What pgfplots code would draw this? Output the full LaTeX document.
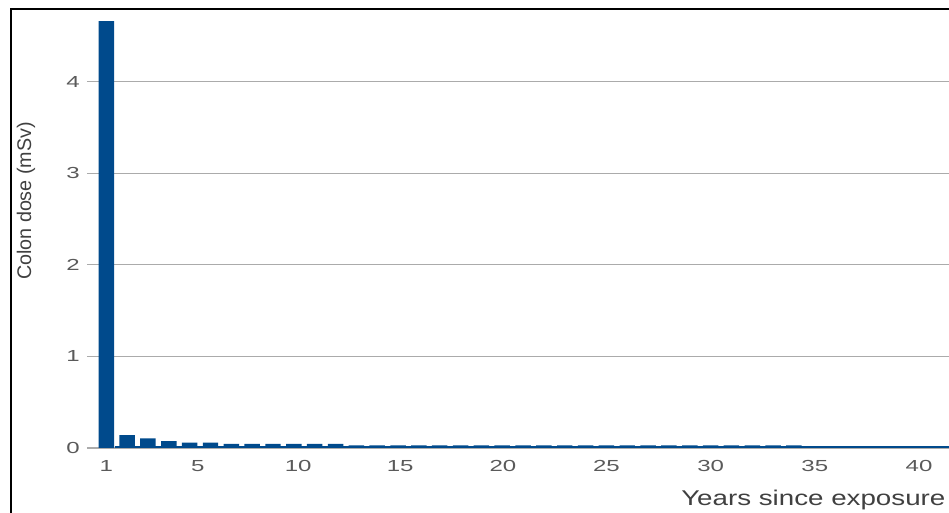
\documentclass[border=0pt]{standalone}
\usepackage{fontspec}
\setmainfont{Liberation Sans}
\newfontfamily\tickfont[FakeStretch=1.5]{Liberation Sans}
\newfontfamily\xlabfont[FakeStretch=1.3]{Liberation Sans}
\usepackage{pgfplots}
\pgfplotsset{compat=1.18}
\definecolor{barblue}{HTML}{004A8C}
\definecolor{gridgray}{HTML}{ABABAB}
\definecolor{ticktext}{HTML}{5A5A5A}
\definecolor{labtext}{HTML}{404040}
\begin{document}
\begin{tikzpicture}
\path[use as bounding box] (-65.25pt,-48.75pt) rectangle (646.5pt,336pt);
\begin{axis}[
  scale only axis,
  width=646.5pt, height=329.25pt,
  xmin=0.074, xmax=41.44,
  ymin=0, ymax=4.793,
  axis line style={draw=none},
  major tick length=0pt,
  ytick={0,1,2,3,4},
  yticklabels={0,1,2,3,4},
  xtick={1,5.39,10.21,15.1,20.03,25,30,35,40},
  xticklabels={1,5,10,15,20,25,30,35,40},
  ymajorgrids,
  grid style={gridgray, line width=1pt},
  xticklabel style={font=\tickfont\fontsize{12}{14}\selectfont, text=ticktext, anchor=north, yshift=-5.5pt},
  yticklabel style={font=\tickfont\fontsize{12}{14}\selectfont, text=ticktext, anchor=east, xshift=-2pt},
  clip=false,
]
\addplot[ybar, bar width=11.6pt, fill=barblue, draw=none] coordinates {
 (1,4.66) (2,0.14) (3,0.105) (4,0.075) (5,0.06) (6,0.06)
 (7,0.045) (8,0.045) (9,0.045) (10,0.045) (11,0.045) (12,0.045)
 (13,0.028) (14,0.028) (15,0.028) (16,0.028) (17,0.028) (18,0.028)
 (19,0.028) (20,0.028) (21,0.028) (22,0.028) (23,0.028) (24,0.028)
 (25,0.028) (26,0.028) (27,0.028) (28,0.028) (29,0.028) (30,0.028)
 (31,0.028) (32,0.028) (33,0.028) (34,0.028)
 (35,0.01) (36,0.01) (37,0.01) (38,0.01) (39,0.01) (40,0.01) (41,0.01)
};
\addplot[barblue, line width=1.5pt] coordinates {(1.4,0.011) (41.44,0.011)};
\end{axis}
\draw[black, line width=1.5pt] (-57pt,-48.75pt) -- (-57pt,329.1pt) -- (646.5pt,329.1pt);
\node[anchor=base east, inner sep=0pt, text=labtext, font=\xlabfont\fontsize{16}{18}\selectfont] at (644pt,-43.5pt) {Years since exposure};
\node[rotate=90, anchor=center, inner sep=0pt, text=labtext, font=\fontsize{14.8}{16}\selectfont] at (-45.75pt,185.25pt) {Colon dose (mSv)};
\end{tikzpicture}
\end{document}
